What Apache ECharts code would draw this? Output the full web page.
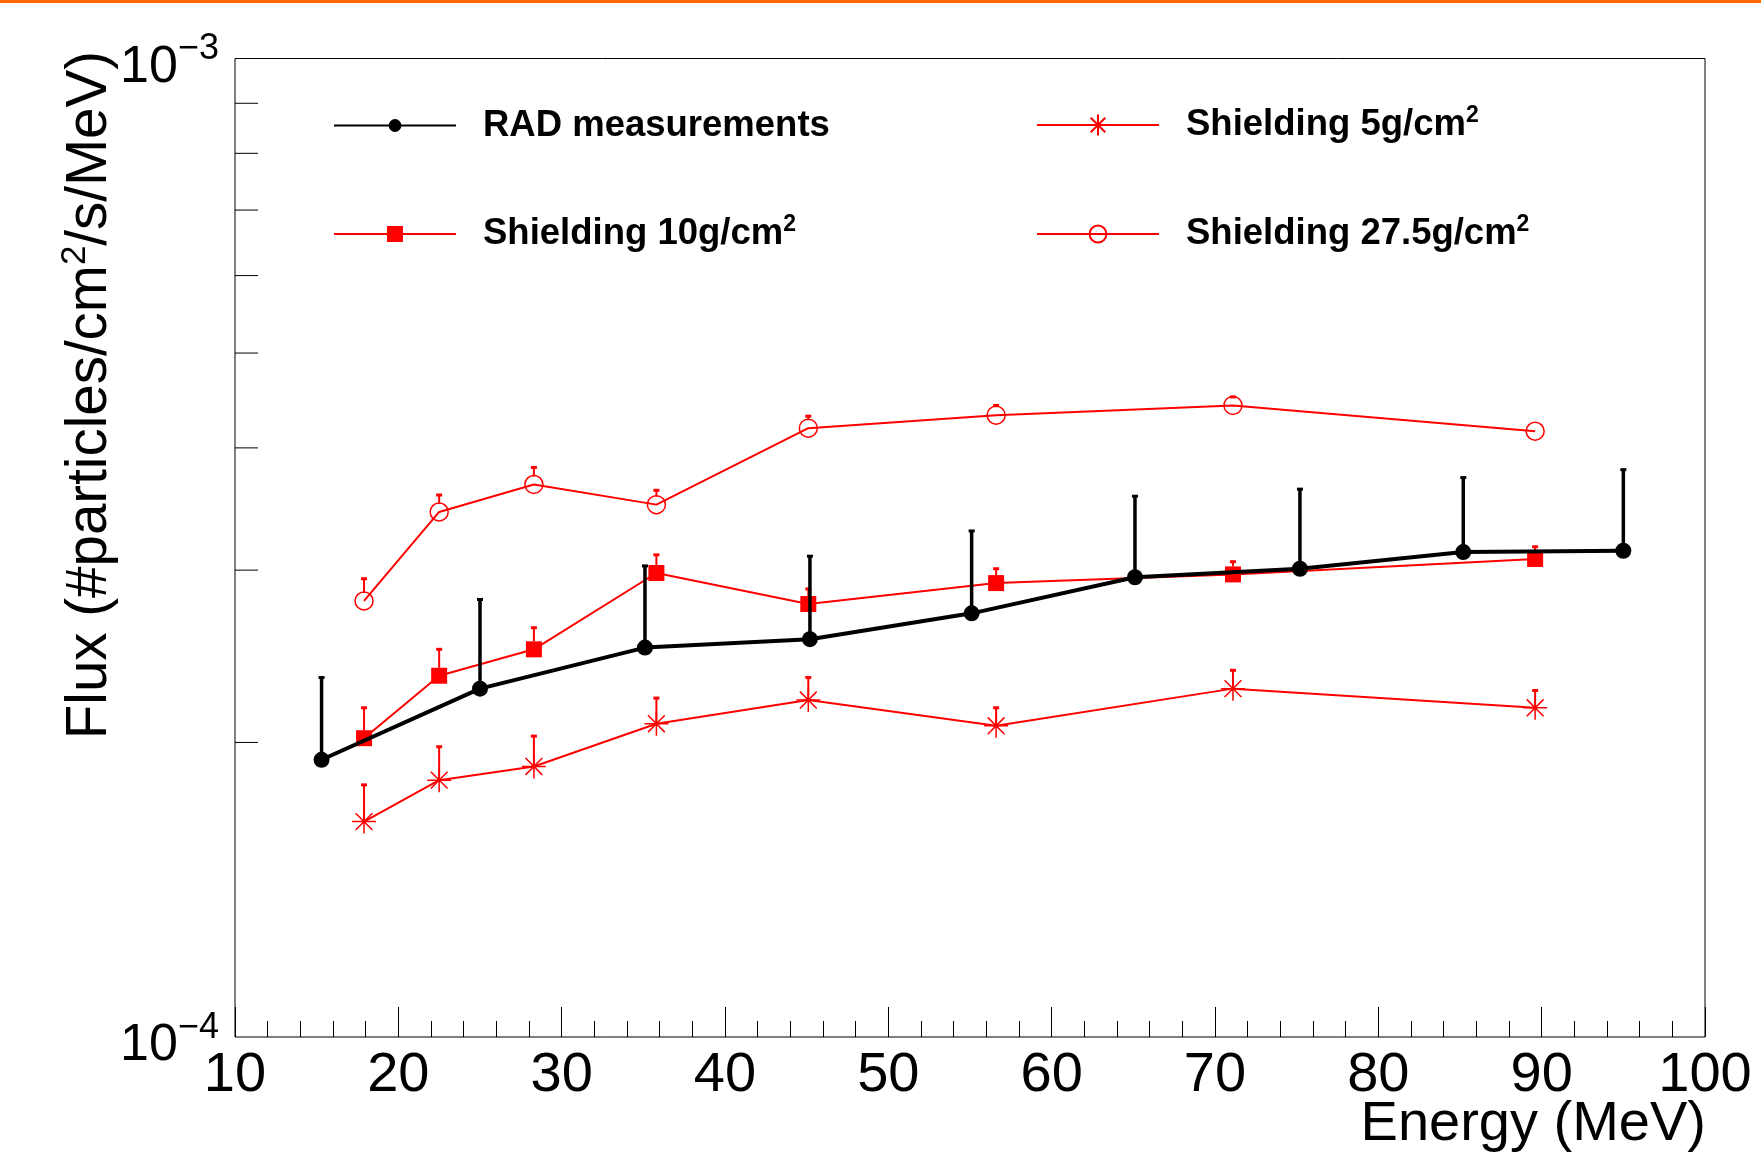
<!DOCTYPE html>
<html>
<head>
<meta charset="utf-8">
<script src="https://cdn.jsdelivr.net/npm/echarts@6.0.0/dist/echarts.min.js"></script>
<style>
  html, body { margin: 0; padding: 0; background: #fff; }
  #chart { width: 1761px; height: 1153px; }
</style>
</head>
<body>
<div id="chart"></div>
<script>
const FONT = 'Liberation Sans, Arial, Helvetica, sans-serif'

// RAD measurements (black points, upper error only)
const radEnergy = [15.3, 25.0, 35.1, 45.2, 55.1, 65.1, 75.2, 85.2, 95.0]
const radFlux = [1.92e-4, 2.27e-4, 2.50e-4, 2.55e-4, 2.71e-4, 2.95e-4, 3.01e-4, 3.13e-4, 3.14e-4]
const radUpper = [2.33e-4, 2.80e-4, 3.03e-4, 3.10e-4, 3.29e-4, 3.57e-4, 3.63e-4, 3.73e-4, 3.80e-4]

// simulations for the three shielding depths
const shieldEnergy = [17.9, 22.5, 28.3, 35.8, 45.1, 56.6, 71.1, 89.6]
const shield5 = [1.66e-4, 1.83e-4, 1.89e-4, 2.09e-4, 2.21e-4, 2.08e-4, 2.27e-4, 2.17e-4]
const shield5Upper = [1.81e-4, 1.98e-4, 2.03e-4, 2.22e-4, 2.33e-4, 2.17e-4, 2.37e-4, 2.26e-4]
const shield10 = [2.02e-4, 2.34e-4, 2.49e-4, 2.98e-4, 2.77e-4, 2.91e-4, 2.97e-4, 3.08e-4]
const shield10Upper = [2.17e-4, 2.49e-4, 2.62e-4, 3.11e-4, 2.87e-4, 3.01e-4, 3.06e-4, 3.17e-4]
const shield27 = [2.79e-4, 3.44e-4, 3.67e-4, 3.50e-4, 4.19e-4, 4.32e-4, 4.42e-4, 4.16e-4]
const shield27Upper = [2.94e-4, 3.58e-4, 3.82e-4, 3.62e-4, 4.31e-4, 4.42e-4, 4.51e-4, 4.16e-4]

const yMinorTicks = [2e-4, 3e-4, 4e-4, 5e-4, 6e-4, 7e-4, 8e-4, 9e-4]

const RED = '#ff0000'
const starPath = 'path://M0,-10L0,10M-10,0L10,0M-7,-7L7,7M-7,7L7,-7'

const zip = (a, b) => a.map((v, i) => [v, b[i]])
const zip3 = (a, b, c) => a.map((v, i) => [v, b[i], c[i]])

// upper error bar with small cap
function errorBars(name, energy, vals, upper, color, width, offset, z) {
  return {
    type: 'custom',
    name: name + ' err',
    z: z,
    silent: true,
    data: zip3(energy, vals, upper),
    encode: { x: 0, y: [1, 2] },
    renderItem(params, api) {
      const x = api.value(0)
      const v = api.value(1)
      const hi = api.value(2)
      if (hi <= v) return null
      const p0 = api.coord([x, v])
      const p1 = api.coord([x, hi])
      return {
        type: 'group',
        children: [
          { type: 'line', shape: { x1: p0[0], y1: p0[1] - offset, x2: p1[0], y2: p1[1] }, style: { stroke: color, lineWidth: width } },
          { type: 'rect', shape: { x: p1[0] - 3, y: p1[1] - 1.5, width: 6, height: 3 }, style: { fill: color } },
        ],
      }
    },
  }
}

const legendRich = {
  b: { fontSize: 36.5, fontWeight: 'bold', fontFamily: FONT, color: '#000' },
  s: { fontSize: 23, fontWeight: 'bold', fontFamily: FONT, color: '#000', padding: [0, 0, 19, 0] },
}

function legendAt(name, left, top, iconH) {
  return {
    data: [name],
    left: left,
    top: top,
    itemWidth: 122,
    itemHeight: iconH,
    selectedMode: false,
    formatter: (n) => (n.endsWith('cm2') ? '{b|' + n.slice(0, -1) + '}{s|2}' : '{b|' + n + '}'),
    textStyle: { rich: legendRich, padding: [0, 0, 0, 22] },
  }
}

const chart = echarts.init(document.getElementById('chart'))

const option = {
  animation: false,
  backgroundColor: '#fff',
  grid: { left: 235, right: 56, top: 58.5, bottom: 116, show: true, borderColor: '#000', borderWidth: 1, backgroundColor: 'transparent' },
  xAxis: {
    type: 'value',
    min: 10,
    max: 100,
    interval: 10,
    axisLine: { show: false },
    axisTick: { show: true, inside: true, length: 30, lineStyle: { color: '#000', width: 1 } },
    minorTick: { show: true, splitNumber: 5, length: 16, lineStyle: { color: '#000', width: 1 } },
    splitLine: { show: false },
    axisLabel: { fontSize: 56, fontFamily: FONT, color: '#000', margin: 11, showMinLabel: true, showMaxLabel: true },
  },
  yAxis: {
    type: 'log',
    logBase: 10,
    min: 1e-4,
    max: 1e-3,
    axisLine: { show: false },
    axisTick: { show: false },
    minorTick: { show: false },
    splitLine: { show: false },
    axisLabel: {
      margin: 16,
      padding: [18, 0, 0, 0],
      formatter: (v) => '{b|10}{s|\u2212' + Math.round(-Math.log10(v)) + '}',
      rich: {
        b: { fontSize: 52, fontFamily: FONT, color: '#000' },
        s: { fontSize: 36, fontFamily: FONT, color: '#000', padding: [0, 0, 36, 0] },
      },
    },
  },
  legend: [
    legendAt('RAD measurements', 328, 102, 16),
    legendAt('Shielding 5g/cm2', 1031, 99, 26),
    legendAt('Shielding 10g/cm2', 328, 208, 20),
    legendAt('Shielding 27.5g/cm2', 1031, 208, 21),
  ],
  graphic: [
    { type: 'rect', left: 0, top: 0, shape: { width: 1761, height: 3 }, style: { fill: '#ff6600' } },
    {
      type: 'text', x: 1706, y: 1125,
      style: { text: 'Energy (MeV)', fontSize: 56, fontFamily: FONT, fill: '#000', align: 'right', verticalAlign: 'middle' },
    },
    {
      type: 'text', x: 90, y: 51, rotation: Math.PI / 2,
      style: {
        text: '{b|Flux (#particles/cm}{s|2}{b|/s/MeV)}',
        align: 'right', verticalAlign: 'middle',
        rich: {
          b: { fontSize: 56.5, fontFamily: FONT, fill: '#000' },
          s: { fontSize: 35, fontFamily: FONT, fill: '#000', padding: [0, 0, 30, 0] },
        },
      },
    },
  ],
  series: [
    // y-axis minor ticks at 2..9 x 10^-4
    {
      type: 'custom',
      silent: true,
      z: 1,
      data: yMinorTicks.map((v) => [10, v]),
      encode: { x: 0, y: 1 },
      renderItem(params, api) {
        const p = api.coord([api.value(0), api.value(1)])
        return { type: 'line', shape: { x1: p[0], y1: p[1], x2: p[0] + 23, y2: p[1] }, style: { stroke: '#000', lineWidth: 1 } }
      },
    },
    errorBars('Shielding 5g/cm2', shieldEnergy, shield5, shield5Upper, RED, 2, 0, 3),
    {
      name: 'Shielding 5g/cm2',
      type: 'line',
      z: 2,
      data: zip(shieldEnergy, shield5),
      symbol: starPath,
      symbolSize: 24,
      lineStyle: { color: RED, width: 2 },
      itemStyle: { color: RED, borderColor: RED, borderWidth: 1.5 },
    },
    errorBars('Shielding 10g/cm2', shieldEnergy, shield10, shield10Upper, RED, 2, 8, 3),
    {
      name: 'Shielding 10g/cm2',
      type: 'line',
      z: 2,
      data: zip(shieldEnergy, shield10),
      symbol: 'rect',
      symbolSize: 16,
      lineStyle: { color: RED, width: 2 },
      itemStyle: { color: RED },
    },
    errorBars('Shielding 27.5g/cm2', shieldEnergy, shield27, shield27Upper, RED, 2, 8, 3),
    {
      name: 'Shielding 27.5g/cm2',
      type: 'line',
      z: 2,
      data: zip(shieldEnergy, shield27),
      symbol: 'circle',
      symbolSize: 18,
      lineStyle: { color: RED, width: 2 },
      itemStyle: { color: 'rgba(255,255,255,0)', borderColor: RED, borderWidth: 1.5 },
    },
    errorBars('RAD measurements', radEnergy, radFlux, radUpper, '#000', 3.5, 0, 5),
    {
      name: 'RAD measurements',
      type: 'line',
      z: 6,
      data: zip(radEnergy, radFlux),
      symbol: 'circle',
      symbolSize: 16,
      lineStyle: { color: '#000', width: 4 },
      itemStyle: { color: '#000' },
    },
  ],
}

chart.setOption(option)
</script>
</body>
</html>
